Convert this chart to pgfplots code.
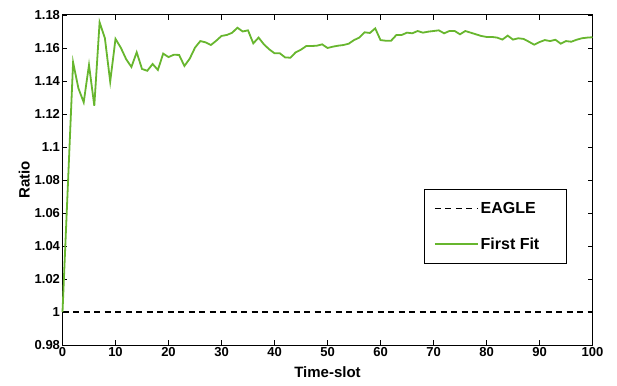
\documentclass[border=0pt]{standalone}
\usepackage{fontspec}
\setmainfont{Liberation Sans}
\usepackage{pgfplots}
\pgfplotsset{compat=1.18}
\definecolor{ffgreen}{RGB}{103,182,46}
\begin{document}
\begin{tikzpicture}
\useasboundingbox (-62.5pt,-40pt) rectangle (554.5pt,345pt);
\begin{axis}[
  at={(0,0)}, anchor=south west,
  scale only axis, width=530pt, height=330pt,
  xmin=0, xmax=100, ymin=0.98, ymax=1.18,
  xtick={0,10,...,100},
  ytick={0.98,1,1.02,1.04,1.06,1.08,1.1,1.12,1.14,1.16,1.18},
  yticklabels={0.98,1,1.02,1.04,1.06,1.08,1.1,1.12,1.14,1.16,1.18},
  /pgf/number format/assume math mode=true,
  tick label style={font=\bfseries\fontsize{13}{15}\selectfont},
  xticklabel style={yshift=1pt},
  yticklabel style={xshift=1pt},
  tick align=inside, major tick length=5pt,
  axis line style={line width=1pt},
  every tick/.style={black, line width=0.8pt},
  xlabel={\bfseries Time-slot}, ylabel={\bfseries Ratio},
  label style={font=\bfseries\fontsize{15}{17}\selectfont},
  xlabel style={yshift=-3pt},
  ylabel style={yshift=-2pt},
  legend style={at={(0.952,0.245)}, anchor=south east, draw=black, line width=0.8pt,
    font=\bfseries\fontsize{16}{18}\selectfont, row sep=19pt, inner xsep=9pt, inner ysep=11pt},
  legend cell align=left,
  legend image code/.code={\draw[#1] (0pt,0pt) -- (43pt,0pt);},
  clip=false,
]
\addplot[black, line width=1.5pt, dash pattern=on 6pt off 4.5pt] coordinates {(0,1) (100,1)};
\addlegendentry{\makebox[75pt][l]{EAGLE}}
\addplot[ffgreen, line width=1.8pt] coordinates {
(0,1.0) (2,1.1513) (3,1.1356) (4,1.1271) (5,1.1497) (6,1.125) (7,1.1756) (8,1.1659) (9,1.1396)
(10,1.1655) (11,1.1602) (12,1.1533) (13,1.1485) (14,1.1574) (15,1.1473) (16,1.1462) (17,1.1503) (18,1.1467) (19,1.1566)
(20,1.1545) (21,1.1559) (22,1.1558) (23,1.1491) (24,1.1535) (25,1.1602) (26,1.1642) (27,1.1634) (28,1.1618) (29,1.1644)
(30,1.1673) (31,1.1679) (32,1.1692) (33,1.1723) (34,1.1700) (35,1.1707) (36,1.1628) (37,1.1663) (38,1.1622) (39,1.1592)
(40,1.1568) (41,1.1568) (42,1.1543) (43,1.1541) (44,1.1574) (45,1.1590) (46,1.1612) (47,1.1612) (48,1.1614) (49,1.1622)
(50,1.1600) (51,1.1608) (52,1.1614) (53,1.1618) (54,1.1626) (55,1.1648) (56,1.1663) (57,1.1695) (58,1.1691) (59,1.1719)
(60,1.1648) (61,1.1644) (62,1.1644) (63,1.1679) (64,1.1679) (65,1.1693) (66,1.1689) (67,1.1703) (68,1.1693) (69,1.1699)
(70,1.1703) (71,1.1707) (72,1.1689) (73,1.1703) (74,1.1703) (75,1.1683) (76,1.1703) (77,1.1693) (78,1.1683) (79,1.1673)
(80,1.1667) (81,1.1667) (82,1.1663) (83,1.1651) (84,1.1675) (85,1.1651) (86,1.1659) (87,1.1655) (88,1.1638) (89,1.1620)
(90,1.1636) (91,1.1648) (92,1.1642) (93,1.1650) (94,1.1626) (95,1.1642) (96,1.1638) (97,1.1650) (98,1.1659) (99,1.1663)
(100,1.1665)
};
\addlegendentry{First Fit}
\end{axis}
\end{tikzpicture}
\end{document}
